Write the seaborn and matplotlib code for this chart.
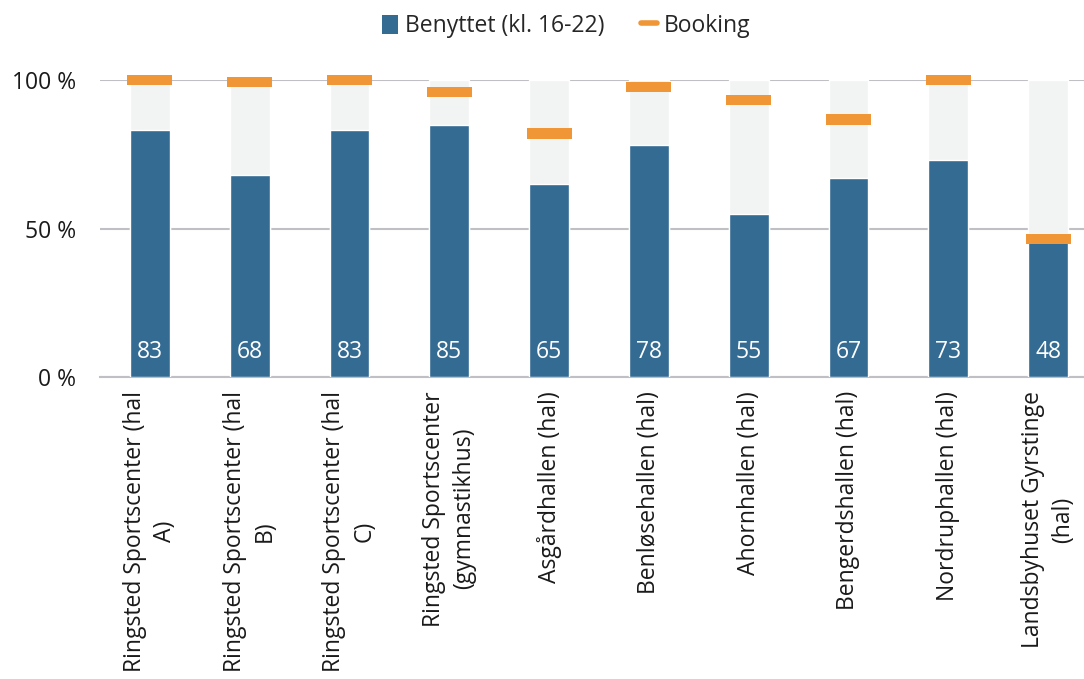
import matplotlib
matplotlib.use("Agg")
import matplotlib.pyplot as plt
import seaborn as sns
import pandas as pd
from matplotlib.patches import Patch
from matplotlib.lines import Line2D

categories = [
    "Ringsted Sportscenter (hal\nA)",
    "Ringsted Sportscenter (hal\nB)",
    "Ringsted Sportscenter (hal\nC)",
    "Ringsted Sportscenter\n(gymnastikhus)",
    "Asgårdhallen (hal)",
    "Benløsehallen (hal)",
    "Ahornhallen (hal)",
    "Bengerdshallen (hal)",
    "Nordruphallen (hal)",
    "Landsbyhuset Gyrstinge\n(hal)",
]
benyttet = [83, 68, 83, 85, 65, 78, 55, 67, 73, 48]
booking = [100, 99.3, 100, 96, 82, 97.6, 93.4, 86.7, 100, 46.5]
capacity = [100] * len(categories)
y_ticks = [0, 50, 100]
y_tick_labels = ["0 %", "50 %", "100 %"]

BLUE = "#336B93"
ORANGE = "#F09636"
BG = "#F2F4F3"
GRID = "#C0C0C4"
FS = 16.5

sns.set_theme(style="white")
plt.rcParams["font.family"] = ["Open Sans", "DejaVu Sans"]

df = pd.DataFrame({"cat": categories, "benyttet": benyttet,
                   "booking": booking, "capacity": capacity})

fig = plt.figure(figsize=(10.84, 6.79), dpi=100)
ax = fig.add_axes([100 / 1084, (679 - 377) / 679, 984 / 1084, 297 / 679])

sns.barplot(data=df, x="cat", y="capacity", color=BG, width=0.4,
            saturation=1, ax=ax, zorder=2)
sns.barplot(data=df, x="cat", y="benyttet", color=BLUE, width=0.4,
            saturation=1, ax=ax, zorder=3)

mh = 3.4
ax.bar(range(len(categories)), [mh] * len(categories),
       bottom=[b - mh / 2 for b in booking], width=0.45, color=ORANGE,
       zorder=4, clip_on=False, linewidth=0)

for i, v in enumerate(benyttet):
    ax.text(i, 8.4, f"{v}", color="white", ha="center", va="center",
            fontsize=FS, zorder=5)

ax.set_xlim(-0.5, 9.36)
ax.set_ylim(0, 100)
ax.set_yticks(y_ticks)
ax.set_yticklabels(y_tick_labels, fontsize=FS, color="#1a1a1a")
ax.yaxis.grid(True, color=GRID, linewidth=1.5, zorder=0)
ax.set_axisbelow(True)
ax.set_xlabel("")
ax.set_ylabel("")
ax.tick_params(axis="x", labelsize=FS, rotation=90, length=0, pad=10,
               labelcolor="#1a1a1a")
ax.tick_params(axis="y", length=0, pad=17)
for lbl in ax.get_xticklabels():
    lbl.set_multialignment("center")
    lbl.set_linespacing(1.35)
for s in ["top", "right", "left"]:
    ax.spines[s].set_visible(False)
ax.spines["bottom"].set_color(GRID)
ax.spines["bottom"].set_linewidth(1.5)

handles = [Patch(facecolor=BLUE, edgecolor="none"),
           Line2D([0], [0], color=ORANGE, linewidth=4)]
fig.legend(handles, ["Benyttet (kl. 16-22)", "Booking"], loc="center",
           bbox_to_anchor=(566 / 1084, 1 - 26 / 679), ncol=2, frameon=False,
           fontsize=FS, handlelength=0.7, handleheight=0.9, handletextpad=0.3,
           columnspacing=1.6)

fig.savefig("out.png", dpi=100)
